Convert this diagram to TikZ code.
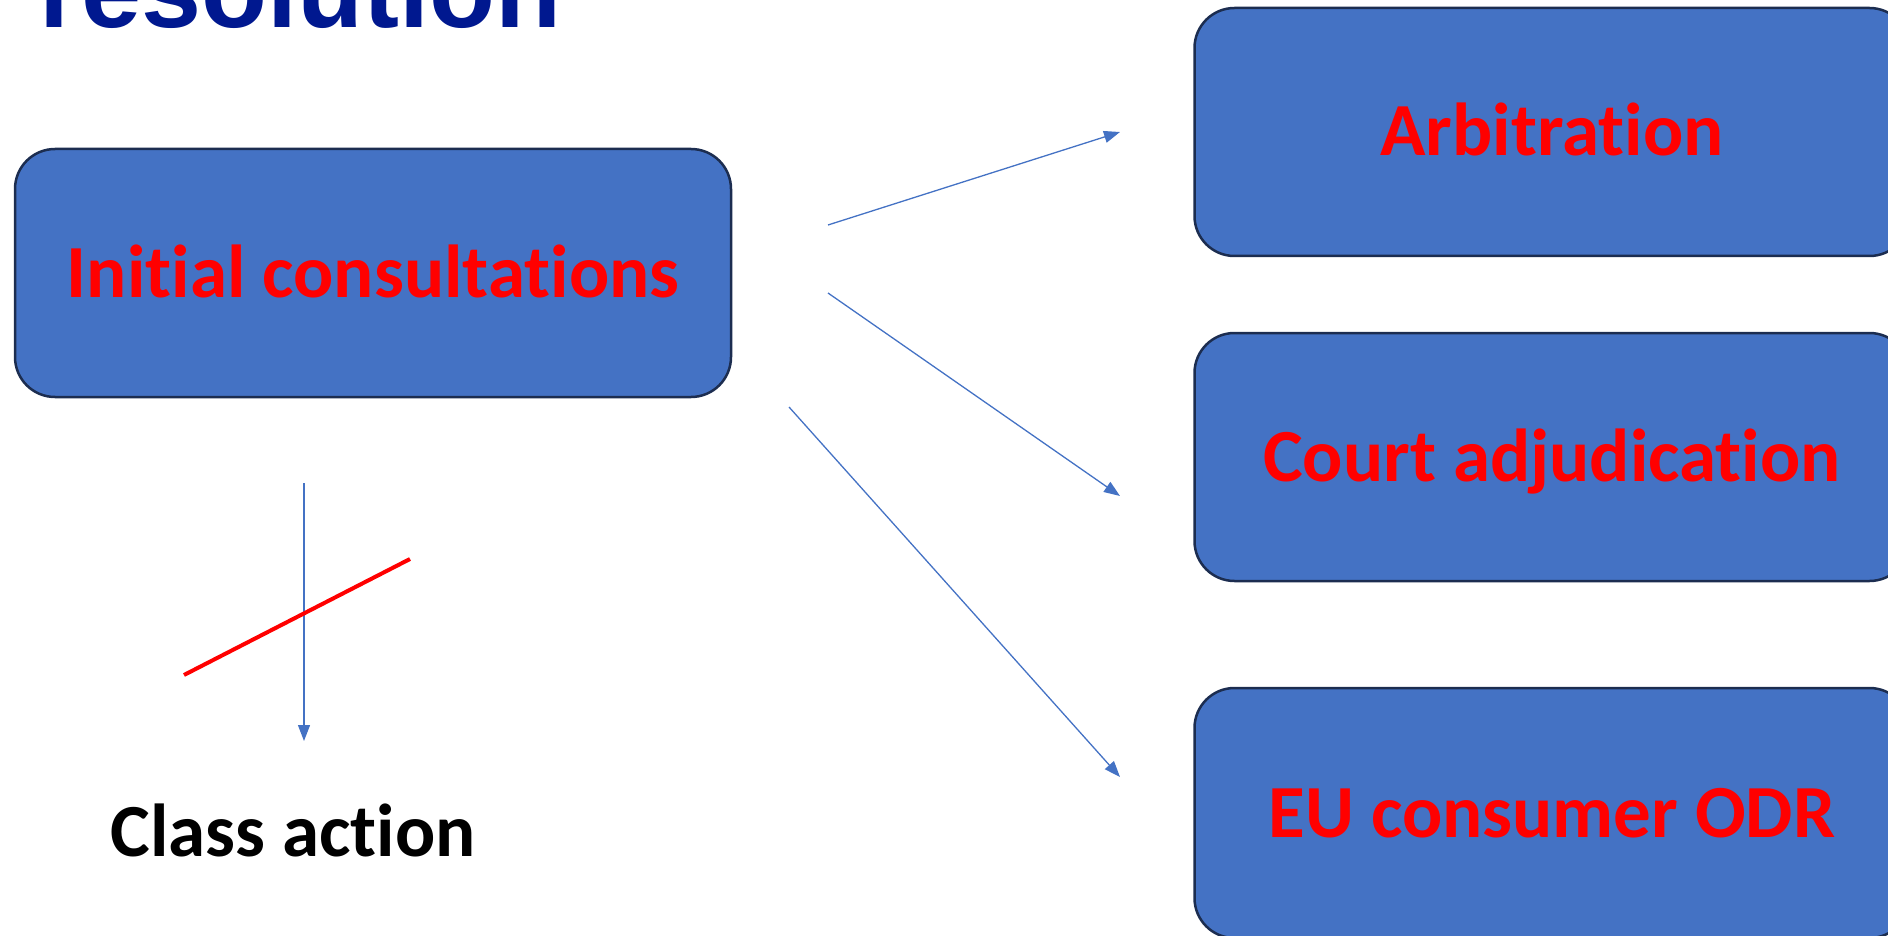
\documentclass[tikz,border=0pt]{standalone}
\usepackage{fontspec}
\setmainfont[Ligatures={NoCommon}]{Carlito}
\newfontfamily\titlefont{Liberation Sans}
\usetikzlibrary{arrows.meta}
\definecolor{boxfill}{RGB}{68,114,196}
\definecolor{boxline}{RGB}{28,45,80}
\definecolor{arrowblue}{RGB}{68,114,196}
\definecolor{titleblue}{RGB}{0,24,143}
\definecolor{txtred}{RGB}{255,0,0}
\tikzset{
  stagebox/.style={draw=boxline, line width=2.5pt, fill=boxfill, rounded corners=40pt,
    minimum width=715pt, minimum height=248pt, inner sep=0pt,
    text height=48pt, text depth=0pt, text=txtred,
    font=\fontsize{75}{90}\selectfont\bfseries},
  flow/.style={draw=arrowblue, line width=1.3pt, -{Triangle[length=16pt,width=12pt]}},
  cross/.style={draw=txtred, line width=4pt},
}
\begin{document}
\begin{tikzpicture}[x=1pt,y=-1pt]
\useasboundingbox (0,0) rectangle (1888,936);
\clip (0,0) rectangle (1888,936);
\node[anchor=base west, inner sep=0pt, text=titleblue,
  font=\titlefont\fontsize{108}{120}\selectfont\bfseries] (title) at (39,28) {resolution};
\node[stagebox, minimum width=716pt] (init) at (373,273) {Initial consultations};
\node[stagebox] (arb) at (1552,132) {Arbitration};
\node[stagebox] (court) at (1552,457) {Court adjudication};
\node[stagebox, minimum height=250pt] (odr) at (1552,813) {EU consumer ODR};
\node[anchor=base, inner sep=0pt, font=\fontsize{75}{90}\selectfont\bfseries] (class) at (293,856) {Class action};
\coordinate (a1s) at (828,225);
\coordinate (a1e) at (1120,132);
\coordinate (a2s) at (828,293);
\coordinate (a2e) at (1120,496);
\coordinate (a3s) at (789,407);
\coordinate (a3e) at (1120,777);
\coordinate (a4s) at (304,483);
\coordinate (a4e) at (304,741);
\coordinate (x1) at (184,675);
\coordinate (x2) at (410,559);
\draw[flow] (a1s) -- (a1e);
\draw[flow] (a2s) -- (a2e);
\draw[flow] (a3s) -- (a3e);
\draw[flow] (a4s) -- (a4e);
\draw[cross] (x1) -- (x2);
\end{tikzpicture}
\end{document}
